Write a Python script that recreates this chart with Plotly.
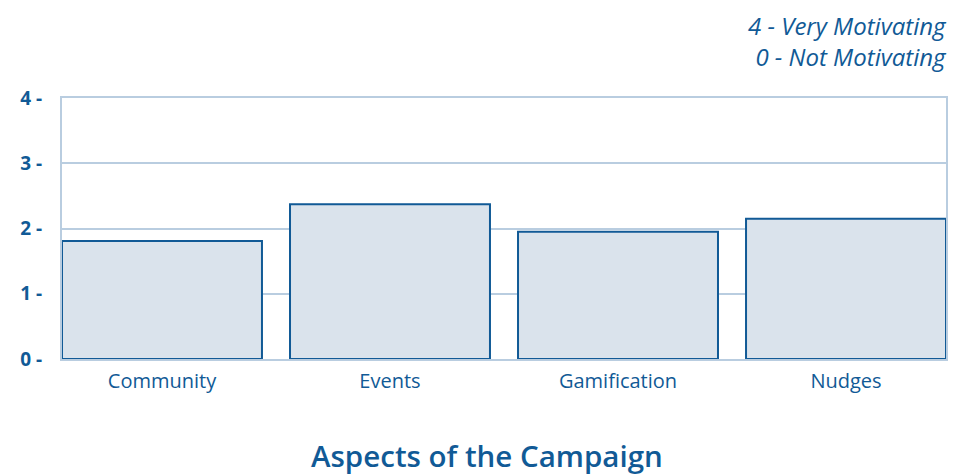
import plotly.graph_objects as go

categories = ["Community", "Events", "Gamification", "Nudges"]
values = [1.81, 2.37, 1.95, 2.15]
y_ticks = [0, 1, 2, 3, 4]
legend_lines = ["4 - Very Motivating", "0 - Not Motivating"]
x_title = "Aspects of the Campaign"

DARK = "#115a96"
FILL = "#dae3ec"
GRID = "#b9cde0"
FONT = "Open Sans"

W, H = 973, 476
ML, MR, MT, MB = 54, 35, 90, 125
bargap = 0.123
half = (1 - bargap) / 2

fig = go.Figure(go.Bar(
    x=list(range(len(categories))), y=values,
    marker=dict(color=FILL, line=dict(color=DARK, width=2)),
    hoverinfo="skip",
))

plot_w = W - ML - MR
title_x = (W / 2 - 8 - ML) / plot_w

annotations = [
    dict(
        text="<i>" + "<br>".join(legend_lines) + "</i>",
        xref="paper", yref="paper", x=1, y=1.0, yshift=57, xshift=3,
        xanchor="right", yanchor="middle", align="right", showarrow=False,
        font=dict(size=24, color=DARK, family=FONT),
    ),
    dict(
        text=x_title,
        xref="paper", yref="paper", x=title_x, y=0, yshift=-96,
        xanchor="center", yanchor="middle", showarrow=False,
        font=dict(size=29.5, color=DARK, family=FONT, weight=600),
    ),
]

fig.update_layout(
    width=W, height=H,
    margin=dict(l=ML, r=MR, t=MT, b=MB),
    plot_bgcolor="white", paper_bgcolor="white",
    bargap=bargap,
    showlegend=False,
    font=dict(family=FONT, color=DARK),
    xaxis=dict(
        range=[-half, len(categories) - 1 + half],
        tickvals=list(range(len(categories))), ticktext=categories,
        tickfont=dict(size=20, color=DARK),
        showgrid=False, showline=True, mirror=True, linecolor=GRID, linewidth=2,
        ticks="", ticklen=0, layer="below traces", ticklabelstandoff=3,
    ),
    yaxis=dict(
        range=[0, 4], tickvals=y_ticks,
        ticktext=[f"{v} -" for v in y_ticks],
        tickfont=dict(size=19, color=DARK, weight=700),
        showgrid=True, gridcolor=GRID, gridwidth=2,
        showline=True, mirror=True, linecolor=GRID, linewidth=2,
        zeroline=False, ticks="", layer="below traces",
        ticklabelstandoff=14,
    ),
    annotations=annotations,
)

fig.write_html("out.html")
